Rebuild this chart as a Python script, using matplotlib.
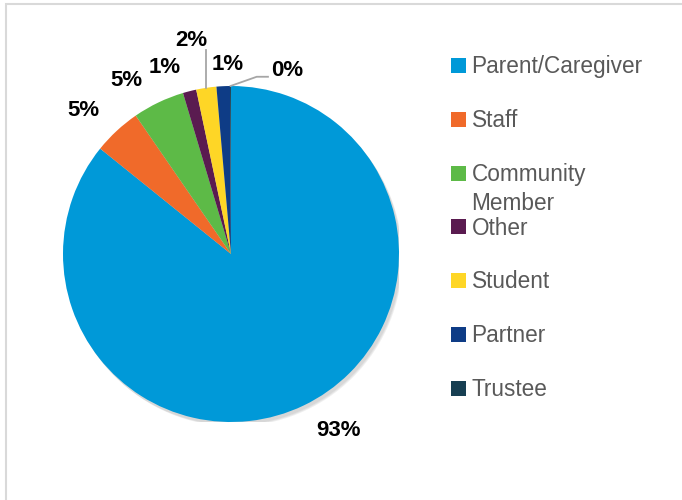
import numpy as np
import matplotlib.pyplot as plt
from matplotlib.patches import Rectangle, Circle

# survey respondents (% of respondents, multi-select so it sums past 100)
categories = ["Parent/Caregiver", "Staff", "Community\nMember", "Other",
              "Student", "Partner", "Trustee"]
values = [93, 5.0, 5.4, 1.4, 2.1, 1.4, 0.1]
colors = ["#0099D8", "#F06A2A", "#5DBA47", "#5A1B50", "#FED626",
          "#0E3C86", "#173F52"]

W, H = 682, 500
fig = plt.figure(figsize=(W / 100, H / 100), dpi=100)

# pie centre and radius in pixels
cx, cy, R = 231, 254, 168
ax = fig.add_axes([(cx - R) / W, (H - cy - R) / H, 2 * R / W, 2 * R / H])

# soft shadow behind the pie
for k, a in enumerate([0.05, 0.05, 0.06]):
    ax.add_patch(Circle((0.012 + 0.004 * k, -0.018 - 0.004 * k), 1.0,
                        color="black", alpha=a, zorder=0, lw=0))

wedges, _ = ax.pie(values, colors=colors, startangle=90, counterclock=False,
                   radius=1.0, wedgeprops=dict(linewidth=0, zorder=2))
ax.set_xlim(-1, 1)
ax.set_ylim(-1, 1)
ax.set_aspect("equal")
ax.axis("off")

# label layout: (angle nudge deg, radial distance)
layout = [(5.8, 1.232), (2.9, 1.223), (5.5, 1.203), (5.2, 1.178),
          (2.1, 1.291), (-1.6, 1.13), (-17.3, 1.141)]
lab_font = dict(family="Liberation Sans", fontsize=16, fontweight="bold",
                color="black")
for w, v, (dt, d) in zip(wedges, values, layout):
    mid = np.deg2rad((w.theta1 + w.theta2) / 2 + dt)
    ax.text(d * np.cos(mid), d * np.sin(mid), f"{v:.0f}%", ha="center",
            va="center", clip_on=False, **lab_font)

# leader lines for the crowded small slices
st = wedges[4]
a = np.deg2rad((st.theta1 + st.theta2) / 2)
ax.plot([np.cos(a), np.cos(a)], [np.sin(a), 1.215], color="#A6A6A6",
        lw=1.3, clip_on=False, zorder=3)
tr = wedges[6]
a = np.deg2rad((tr.theta1 + tr.theta2) / 2)
ax.plot([np.cos(a), 0.153, 0.22], [np.sin(a), 1.055, 1.055],
        color="#A6A6A6", lw=1.3, clip_on=False, zorder=3)

# legend drawn by hand so the wrapped label keeps the even row spacing
lx, ly0, step, sq = 451, 65.5, 53.75, 15
for i, (name, c) in enumerate(zip(categories, colors)):
    y = ly0 + i * step
    fig.patches.append(Rectangle((lx / W, 1 - (y + sq / 2) / H), sq / W,
                                 sq / H, transform=fig.transFigure,
                                 color=c, lw=0))
    for j, line in enumerate(name.split("\n")):
        fig.text((lx + 20.5) / W, 1 - (y + 7.8 + 29.3 * j) / H, line,
                 ha="left", va="baseline", fontsize=16.3, color="#595959",
                 family="Liberation Sans", transform=fig.transFigure)

# outer frame
fig.patches.append(Rectangle((6 / W, -0.01), 1.0, 1 - 4 / H + 0.01,
                             transform=fig.transFigure, fill=False,
                             edgecolor="#D9D9D9", lw=1.5))

fig.savefig("out.png", dpi=100)
